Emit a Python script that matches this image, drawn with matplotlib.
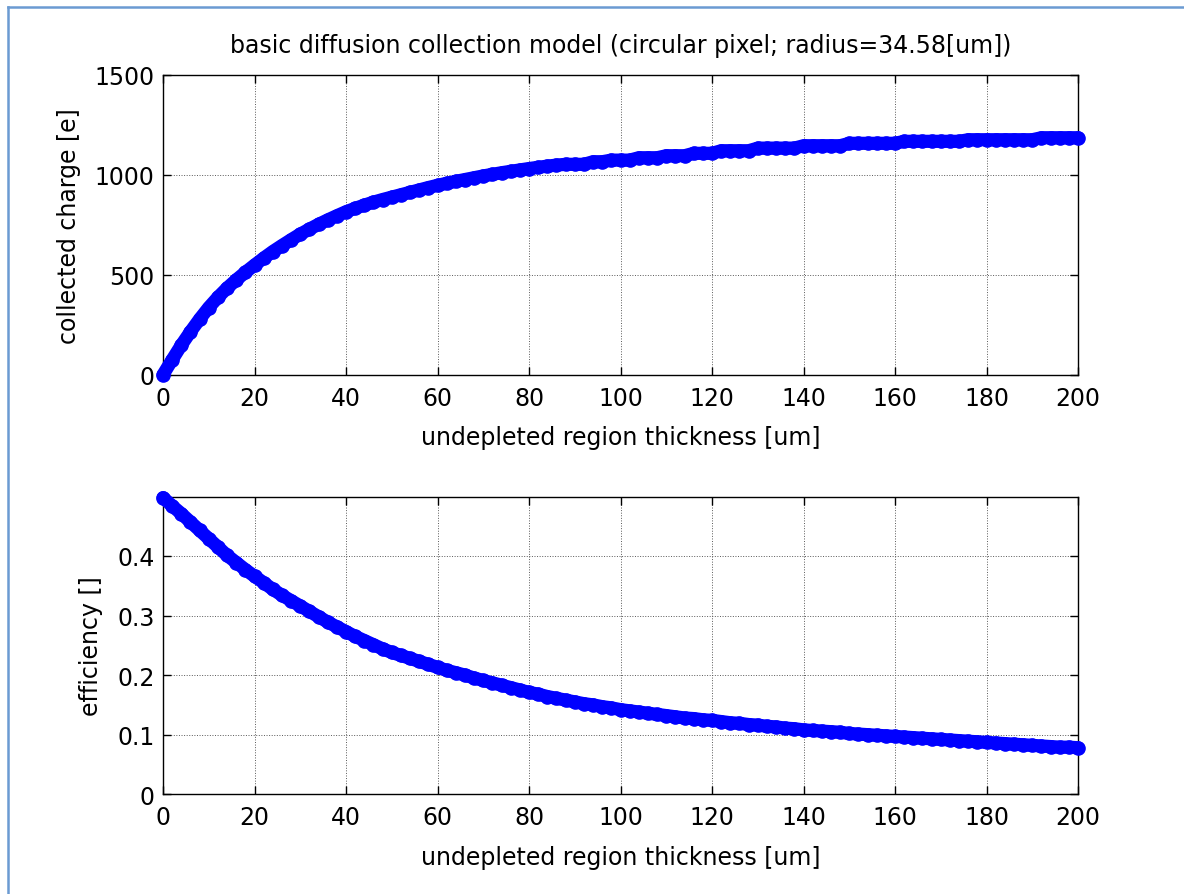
import matplotlib
matplotlib.use('Agg')
import matplotlib.pyplot as plt
from matplotlib.lines import Line2D

# thickness grid [um] (every 2 um)
thickness = list(range(0, 201, 2))

# collected charge [e]
charge = [0, 75, 148, 215, 278, 336, 387, 433, 474, 512,
          548, 583, 616, 646, 675, 703, 728, 752, 774, 795,
          815, 832, 848, 863, 876, 888, 900, 912, 924, 936,
          947, 957, 967, 976, 985, 994, 1002, 1010, 1017, 1024,
          1031, 1037, 1043, 1048, 1052, 1052, 1052, 1065, 1065, 1073,
          1073, 1073, 1085, 1085, 1085, 1095, 1095, 1095, 1107, 1107,
          1107, 1120, 1120, 1120, 1120, 1133, 1133, 1133, 1133, 1133,
          1145, 1145, 1145, 1145, 1145, 1157, 1157, 1157, 1157, 1157,
          1157, 1167, 1167, 1167, 1167, 1167, 1167, 1167, 1175, 1175,
          1175, 1175, 1175, 1175, 1175, 1175, 1185, 1185, 1185, 1185,
          1185]

# collection efficiency []
efficiency = [0.498, 0.484, 0.471, 0.457, 0.443, 0.429, 0.415, 0.401, 0.389, 0.377,
              0.366, 0.355, 0.344, 0.334, 0.325, 0.316, 0.307, 0.298, 0.289, 0.281,
              0.273, 0.265, 0.258, 0.251, 0.244, 0.238, 0.233, 0.228, 0.223, 0.218,
              0.213, 0.208, 0.204, 0.200, 0.195, 0.191, 0.187, 0.183, 0.179, 0.175,
              0.171, 0.168, 0.164, 0.161, 0.158, 0.155, 0.152, 0.150, 0.147, 0.145,
              0.142, 0.140, 0.138, 0.136, 0.134, 0.132, 0.130, 0.128, 0.127, 0.125,
              0.124, 0.122, 0.120, 0.119, 0.117, 0.116, 0.114, 0.113, 0.111, 0.110,
              0.108, 0.107, 0.106, 0.105, 0.104, 0.102, 0.101, 0.100, 0.099, 0.098,
              0.097, 0.096, 0.095, 0.094, 0.093, 0.092, 0.091, 0.090, 0.089, 0.088,
              0.087, 0.086, 0.085, 0.084, 0.083, 0.082, 0.081, 0.080, 0.079, 0.079,
              0.078]

x_ticks = list(range(0, 201, 20))
charge_ticks = [0, 500, 1000, 1500]
eff_ticks = [0, 0.1, 0.2, 0.3, 0.4]

plt.rcParams['font.family'] = ['DejaVu Sans']
plt.rcParams['font.size'] = 17

fig = plt.figure(figsize=(11.84, 8.95), dpi=100)
fig.patch.set_facecolor('white')

# frame lines at top and left
fig.add_artist(Line2D([8/1184, 8/1184], [0, 1 - 8/895], color='#6b9bd2', lw=1.8))
fig.add_artist(Line2D([8/1184, 1], [1 - 8/895, 1 - 8/895], color='#6b9bd2', lw=1.8))


def style_axes(ax):
    ax.set_xlim(0, 200)
    ax.set_xticks(x_ticks)
    ax.grid(True, linestyle=':', linewidth=0.7, color='0.35')
    ax.tick_params(direction='in', top=True, right=True, length=6, width=1,
                   labelsize=17)
    ax.tick_params(axis='x', pad=8)
    ax.tick_params(axis='y', pad=6)
    for s in ax.spines.values():
        s.set_linewidth(1.0)
    ax.set_xlabel('undepleted region thickness [um]', fontsize=17, labelpad=11)


def draw_band(ax, x, y):
    # dense blue dots, drawn with a thick joined stroke behind so they merge
    ax.plot(x, y, '-o', color='#0000ff', ms=9.5, lw=9.5,
            solid_joinstyle='round', solid_capstyle='round',
            clip_on=False, zorder=3)


ax1 = fig.add_axes([0.1377, 0.5802, 0.7728, 0.3352])
draw_band(ax1, thickness, charge)
style_axes(ax1)
ax1.set_ylim(0, 1500)
ax1.set_yticks(charge_ticks)
ax1.set_ylabel('collected charge [e]', fontsize=17, labelpad=10)
ax1.set_title('basic diffusion collection model (circular pixel; radius=34.58[um])',
              fontsize=17, pad=16)

ax2 = fig.add_axes([0.1377, 0.1115, 0.7728, 0.3324])
draw_band(ax2, thickness, efficiency)
style_axes(ax2)
ax2.set_ylim(0, 0.4995)
ax2.set_yticks(eff_ticks)
ax2.set_yticklabels(['0', '0.1', '0.2', '0.3', '0.4'])
ax2.set_ylabel('efficiency []', fontsize=17, labelpad=10)

plt.savefig('out.png', dpi=100)
plt.close()
